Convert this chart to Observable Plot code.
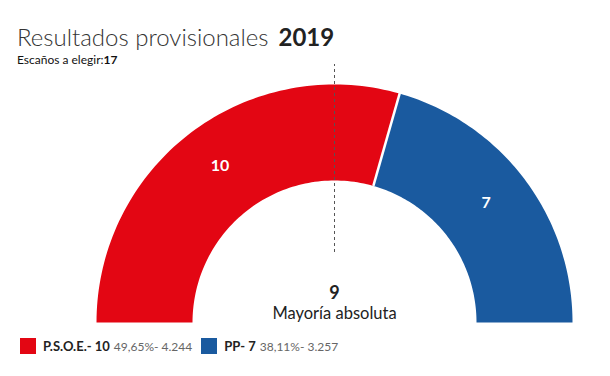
<!DOCTYPE html>
<html>
<head>
<meta charset="utf-8">
<script src="https://cdn.jsdelivr.net/npm/d3@7"></script>
<script src="https://cdn.jsdelivr.net/npm/@observablehq/plot@0.6"></script>
<style>
  html, body { margin: 0; padding: 0; background: #fff; }
  body { width: 610px; height: 376px; position: relative; font-family: Lato, "Open Sans", sans-serif; color: #222; overflow: hidden; }
  #header { position: absolute; left: 17px; top: 0; }
  #title { position: absolute; top: 22px; left: 0; white-space: nowrap; font-size: 24px; line-height: 30px; }
  #title .light { font-weight: 300; color: #333; }
  #title .year { font-weight: 700; color: #222; margin-left: 10px; }
  #sub { position: absolute; top: 52px; left: 0; white-space: nowrap; font-size: 12px; color: #111; }
  #chart { position: absolute; left: 0; top: 62px; }
  #legend { position: absolute; left: 20px; top: 338px; display: flex; align-items: center; white-space: nowrap; }
  .item { display: flex; align-items: center; margin-right: 9px; }
  .sw { width: 16px; height: 16px; margin-right: 7px; }
  .nm { font-weight: 700; font-size: 13px; color: #222; margin-right: 4px; }
  .st { font-size: 12px; color: #666; }
</style>
</head>
<body>
<div id="header">
  <div id="title"><span class="light">Resultados provisionales</span><span class="year"></span></div>
  <div id="sub"></div>
</div>
<div id="chart"></div>
<div id="legend"></div>
<script>
// ---- data ----
const year = "2019";
const totalSeats = 17;
const majority = 9;
const parties = ["P.S.O.E.", "PP"];
const seats = [10, 7];
const colors = ["#e30613", "#1a5a9f"];
const percents = ["49,65%", "38,11%"];
const votes = ["4.244", "3.257"];

document.querySelector("#title .year").textContent = year;
document.getElementById("sub").innerHTML = "Escaños a elegir:<b>" + totalSeats + "</b>";

// ---- geometry (pixels relative to centre) ----
const R = 238, r = 142, rLabel = 190;
const W = 610, H = 268, cx = 334, cy = 260;

let cum = 0;
const segs = parties.map((p, i) => {
  const a0 = Math.PI * (1 - cum / totalSeats);
  cum += seats[i];
  const a1 = Math.PI * (1 - cum / totalSeats);
  return {party: p, seats: seats[i], color: colors[i], a0, a1};
});

const poly = [];
segs.forEach(s => {
  const n = 80;
  for (let k = 0; k <= n; k++) {
    const a = s.a0 + (s.a1 - s.a0) * k / n;
    poly.push({party: s.party, x: R * Math.cos(a), y: R * Math.sin(a)});
  }
  for (let k = n; k >= 0; k--) {
    const a = s.a0 + (s.a1 - s.a0) * k / n;
    poly.push({party: s.party, x: r * Math.cos(a), y: r * Math.sin(a)});
  }
});

const labels = segs.map(s => {
  const a = (s.a0 + s.a1) / 2;
  return {x: rLabel * Math.cos(a), y: rLabel * Math.sin(a), text: String(s.seats)};
});
const seps = segs.slice(0, -1).map(s => ({
  x1: r * Math.cos(s.a1), y1: r * Math.sin(s.a1),
  x2: (R + 1) * Math.cos(s.a1), y2: (R + 1) * Math.sin(s.a1)
}));

const plot = Plot.plot({
  width: W, height: H,
  margin: 0,
  x: {domain: [-cx, W - cx], range: [0, W], axis: null},
  y: {domain: [cy - H, cy], range: [H, 0], axis: null},
  color: {domain: parties, range: colors},
  style: {fontFamily: "Lato, sans-serif", background: "transparent"},
  marks: [
    Plot.line(poly, {x: "x", y: "y", z: "party", fill: "party", stroke: "none", curve: "linear"}),
    Plot.link(seps, {x1: "x1", y1: "y1", x2: "x2", y2: "y2", stroke: "white", strokeWidth: 2.5}),
    Plot.ruleX([0], {y1: 70, y2: 258, stroke: "#555", strokeWidth: 1, strokeDasharray: "3,3"}),
    Plot.text(labels, {x: "x", y: "y", dy: -5, text: "text", fill: "white", fontSize: 16, fontWeight: 700}),
    Plot.text([String(majority)], {x: 0, y: 29, text: d => d, fill: "#222", fontSize: 18, fontWeight: 700}),
    Plot.text(["Mayoría absoluta"], {x: 0, y: 9, text: d => d, fill: "#222", fontSize: 16.5})
  ]
});
document.getElementById("chart").appendChild(plot);

// ---- legend ----
const leg = document.getElementById("legend");
parties.forEach((p, i) => {
  const it = document.createElement("div");
  it.className = "item";
  it.innerHTML = `<div class="sw" style="background:${colors[i]}"></div><span class="nm">${p}- ${seats[i]}</span><span class="st">${percents[i]}- ${votes[i]}</span>`;
  leg.appendChild(it);
});
</script>
</body>
</html>
